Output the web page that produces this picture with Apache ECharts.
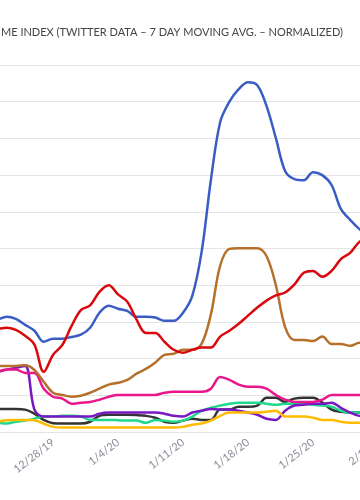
<!DOCTYPE html>
<html>
<head>
<meta charset="utf-8">
<script src="https://cdn.jsdelivr.net/npm/echarts@6/dist/echarts.min.js"></script>
<style>
html,body{margin:0;padding:0;background:#fff;overflow:hidden;}
#chart{width:360px;height:500px;}
</style>
</head>
<body>
<div id="chart"></div>
<script>
// day offsets relative to 12/28/19
const days = [-7,-6,-5,-4,-3,-2,-1,0,1,2,3,4,5,6,7,8,9,10,11,12,13,14,15,16,17,18,19,20,21,22,23,24,25,26,27,28,29,30,31,32,33,34];
const tickLabels = ['12/21/19','12/28/19','1/4/20','1/11/20','1/18/20','1/25/20','2/1/20'];
const titleText = 'ME INDEX (TWITTER DATA \u2013 7 DAY MOVING AVG. \u2013 NORMALIZED)';

const blue   = [30.0,30.6,31.4,30.8,29.2,27.6,24.6,25.4,25.4,25.9,26.5,28.4,32.5,34.4,33.6,33.0,31.4,31.4,31.2,30.3,30.3,32.5,37.1,49.0,68.6,84.4,90.0,93.4,95.3,94.5,88.8,80.1,71.1,68.9,68.6,70.8,70.0,67.3,60.8,57.8,55.3,53.4];
const red    = [27.8,28.1,28.4,27.8,26.2,23.8,16.4,21.0,23.7,28.9,33.2,34.5,38.2,40.0,37.5,35.5,30.6,27.0,27.0,24.6,22.4,21.6,22.4,23.0,23.0,26.0,27.6,29.5,31.7,33.9,35.8,37.2,38.0,40.2,43.4,43.9,42.3,43.9,47.1,48.8,51.8,53.1];
const brown  = [18.0,18.0,18.0,18.0,18.2,16.9,13.7,10.7,10.1,9.6,9.9,10.7,11.8,12.9,13.4,14.2,15.9,17.2,18.9,21.0,21.3,22.4,22.4,24.0,32.0,45.3,49.9,50.1,50.1,50.1,47.9,40.0,28.6,25.1,25.1,24.8,26.0,24.0,24.0,23.5,24.3,24.3];
const pink   = [16.1,16.4,17.0,17.0,16.1,16.1,11.8,9.6,9.1,7.7,8.0,8.2,8.8,9.6,10.1,10.1,10.1,10.1,10.1,10.7,11.0,11.0,11.0,11.0,11.8,15.0,14.2,12.9,12.3,12.3,11.8,10.1,8.8,8.2,8.2,8.2,8.8,10.1,10.1,10.1,10.1,10.1];
const purple = [16.1,16.4,17.0,17.5,18.0,6.1,4.2,4.2,4.2,4.2,4.2,4.2,5.0,5.3,5.3,5.3,5.3,5.3,5.3,5.0,4.4,4.2,5.3,5.8,6.3,6.1,6.1,5.8,5.3,4.7,3.6,3.3,5.8,7.2,7.4,7.7,7.7,8.0,6.6,5.3,4.4,4.2];
const green  = [2.5,2.5,2.3,2.8,3.1,3.6,4.2,4.2,4.4,4.4,4.2,3.3,3.3,3.3,3.2,3.1,3.1,2.5,3.3,3.1,2.8,3.1,4.2,5.8,6.6,7.2,7.7,8.0,8.0,8.0,7.7,7.4,7.7,7.7,7.7,7.4,7.2,6.9,5.8,5.3,5.3,5.3];
const gray   = [6.3,6.3,6.3,6.3,6.1,5.0,3.3,2.4,2.3,2.3,2.3,2.8,4.4,4.7,4.7,4.7,4.6,4.4,3.9,2.8,2.5,3.1,3.6,3.3,3.3,6.1,6.1,6.9,6.9,7.2,9.3,9.3,8.2,9.1,9.3,9.3,8.0,6.1,5.5,5.3,5.3,5.3];
const yellow = [2.5,2.8,3.2,3.3,3.3,3.2,2.3,1.4,1.2,1.2,1.2,1.2,1.2,1.2,1.2,1.2,1.2,1.2,1.2,1.2,1.2,1.4,2.0,2.3,3.1,4.4,5.3,5.3,5.3,5.3,5.5,5.8,4.2,4.2,4.2,3.9,3.3,3.3,2.8,2.5,2.5,2.5];

const seriesDefs = [
  {name:'gray', data:gray, color:'#333333'},
  {name:'green', data:green, color:'#1fd88b'},
  {name:'purple', data:purple, color:'#7a17c4'},
  {name:'pink', data:pink, color:'#ea168c'},
  {name:'yellow', data:yellow, color:'#ffbb00'},
  {name:'brown', data:brown, color:'#b5702c'},
  {name:'blue', data:blue, color:'#3a5dc4'},
  {name:'red', data:red, color:'#d8080c'}
];

const chart = echarts.init(document.getElementById('chart'), null, {renderer:'canvas'});
chart.setOption({
  animation:false,
  backgroundColor:'#ffffff',
  title:{
    text:titleText, left:-4, top:22,
    textStyle:{fontSize:11, fontWeight:'normal', color:'#444', fontFamily:'Lato'}
  },
  grid:{left:-12, right:-18, top:65, bottom:68, containLabel:false, outerBoundsMode:'none'},
  xAxis:{
    type:'value', min:-7, max:35, interval:7,
    axisLine:{show:false}, axisTick:{show:false}, splitLine:{show:false},
    axisLabel:{
      rotate:38, margin:9, fontSize:11, color:'#8a8a99', fontFamily:'Lato',
      formatter:function(v){ const i = Math.round((v+7)/7); return tickLabels[i] || ''; }
    }
  },
  yAxis:{
    type:'value', min:0, max:100, interval:10,
    axisLabel:{show:false}, axisLine:{show:false}, axisTick:{show:false},
    splitLine:{show:true, lineStyle:{color:'#e4e4e4', width:1}}
  },
  series: seriesDefs.map(s => ({
    name:s.name, type:'line', smooth:0.35, symbol:'none',
    data: days.map((d,i) => [d, s.data[i]]),
    lineStyle:{color:s.color, width:2.5}, itemStyle:{color:s.color}
  }))
});
</script>
</body>
</html>
